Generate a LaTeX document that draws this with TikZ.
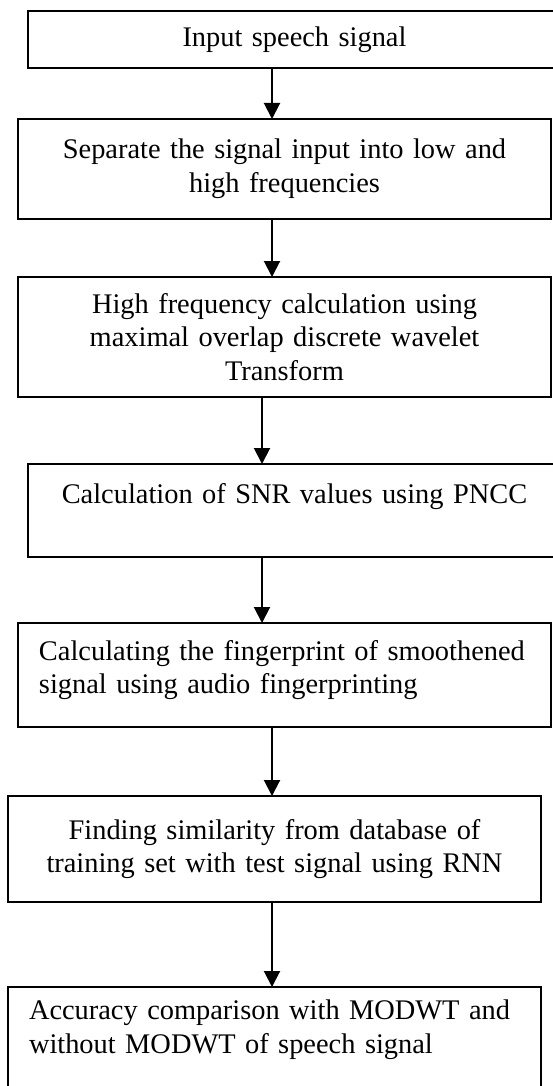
\documentclass[tikz,border=0pt]{standalone}
\usepackage{fontspec}
\setmainfont{Liberation Serif}
\usetikzlibrary{positioning,arrows.meta}

\begin{document}
\begin{tikzpicture}[x=1pt, y=1pt, font=\fontsize{14.2pt}{16.8pt}\selectfont,
   stepbox/.style={rectangle, draw=black, line width=1pt, minimum width=266.5pt,
      text width=262.5pt, inner xsep=2pt, inner ysep=0pt, outer sep=0pt, align=center},
   leftbox/.style={stepbox, align=left, execute at begin node={\leftskip=8.5pt}},
   flow/.style={-{Triangle[length=8pt,width=8pt]}, line width=1pt}]
      \useasboundingbox (0,0) rectangle (276,-543);
      \coordinate (colA) at (136,0);
      \coordinate (colB) at (131,0);

      \node[stepbox, name=input, minimum height=28.5pt, anchor=north west] at (14,-5.5) {Input speech signal};
      \node[stepbox, name=split, minimum height=50pt, below=25.5pt of input, xshift=-5pt] {Separate the signal input into low and\\ high frequencies};
      \node[stepbox, name=wave, minimum height=60pt, below=29pt of split] {High frequency calculation using\\ maximal overlap discrete wavelet\\ Transform};
      \node[stepbox, name=snr, text height=19.5pt, text depth=27pt, below=33.5pt of wave, xshift=5pt] {Calculation of SNR values using PNCC};
      \node[leftbox, name=finger, text height=18.5pt, text depth=33.5pt, below=33pt of snr, xshift=-5pt] {Calculating the fingerprint of smoothened\\ signal using audio fingerprinting};
      \node[stepbox, name=match, minimum height=53pt, below=34.5pt of finger, xshift=-5pt] {Finding similarity from database of\\ training set with test signal using RNN};
      \node[leftbox, name=compare, text height=16.3pt, text depth=41.7pt, below=42.5pt of match] {Accuracy comparison with MODWT and\\ without MODWT of speech signal};

      \path[flow]
         (input.south -| colA) edge (split.north -| colA)
         (split.south -| colA) edge (wave.north -| colA)
         (wave.south -| colB) edge (snr.north -| colB)
         (snr.south -| colB) edge (finger.north -| colB)
         (finger.south -| colA) edge (match.north -| colA)
         (match.south -| colA) edge (compare.north -| colA);
   \end{tikzpicture}
\end{document}
